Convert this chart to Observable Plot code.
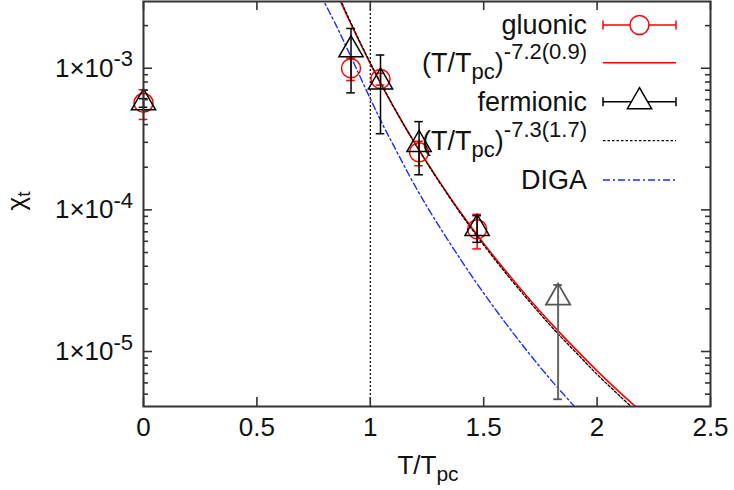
<!DOCTYPE html>
<html><head><meta charset="utf-8">
<script src="https://cdn.jsdelivr.net/npm/d3@7"></script>
<script src="https://cdn.jsdelivr.net/npm/@observablehq/plot@0.6"></script>
<style>body{margin:0;background:#fff} svg{display:block}</style>
</head><body><div id="chart"></div>
<script>
// ---------- data ----------
const gluonicT    = [0, 0.915, 1.045, 1.215, 1.471];
const gluonicChi  = [5.7e-4, 1.0e-3, 8.4e-4, 2.55e-4, 7.3e-5];
const gluonicErr  = [1.35e-4, 1.8e-4, 0.8e-4, 0.5e-4, 2.0e-5];

const fermionicT    = [0, 0.915, 1.045, 1.215, 1.471, 1.828];
const fermionicChi  = [5.7e-4, 1.35e-3, 8.0e-4, 2.9e-4, 7.4e-5, 2.4e-5];
const fermionicLow  = [5.3e-4, 6.7e-4, 3.45e-4, 1.77e-4, 5.9e-5, 4.6e-6];
const fermionicHigh = [6.1e-4, 1.91e-3, 1.24e-3, 4.2e-4, 9.1e-5, 2.95e-5];

const fitT            = [0.86, 0.9, 1.0, 1.1, 1.2, 1.3, 1.4, 1.5, 1.6, 1.7, 1.8, 1.9, 2.0, 2.1, 2.2];
const gluonicFitChi   = [3.19e-3, 2.30e-3, 1.08e-3, 5.42e-4, 2.90e-4, 1.63e-4, 9.5e-5, 5.8e-5, 3.65e-5, 2.36e-5, 1.56e-5, 1.06e-5, 7.3e-6, 5.15e-6, 3.7e-6];
const fermionicFitChi = [3.28e-3, 2.35e-3, 1.09e-3, 5.44e-4, 2.88e-4, 1.61e-4, 9.35e-5, 5.65e-5, 3.53e-5, 2.27e-5, 1.49e-5, 1.01e-5, 6.9e-6, 4.85e-6, 3.45e-6];

const digaT   = [0.78, 0.85, 0.913, 1.0, 1.06, 1.1, 1.2, 1.28, 1.4, 1.5, 1.6, 1.7, 1.8, 1.9];
const digaChi = [3.3e-3, 2.0e-3, 1.22e-3, 6.1e-4, 3.85e-4, 2.9e-4, 1.45e-4, 8.8e-5, 4.42e-5, 2.58e-5, 1.56e-5, 9.7e-6, 6.2e-6, 4.1e-6];

const tpcLine = [1];

const xTicks      = [0, 0.5, 1, 1.5, 2, 2.5];
const xTickLabels = ["0", "0.5", "1", "1.5", "2", "2.5"];
const yMajor      = [1e-3, 1e-4, 1e-5];
const yMajorBase  = ["1×10", "1×10", "1×10"];
const yMajorExp   = ["-3", "-4", "-5"];
const yMinor = [2e-3, 9e-4, 8e-4, 7e-4, 6e-4, 5e-4, 4e-4, 3e-4, 2e-4,
                9e-5, 8e-5, 7e-5, 6e-5, 5e-5, 4e-5, 3e-5, 2e-5,
                9e-6, 8e-6, 7e-6, 6e-6, 5e-6];

const legendLabels = ["gluonic", "-7.2(0.9)", "fermionic", "-7.3(1.7)", "DIGA"];

// ---------- tables ----------
const gluonic = gluonicT.map((t, i) => ({t, chi: gluonicChi[i], lo: gluonicChi[i] - gluonicErr[i], hi: gluonicChi[i] + gluonicErr[i]}));
const fermionic = fermionicT.map((t, i) => ({t, chi: fermionicChi[i], lo: fermionicLow[i], hi: fermionicHigh[i]}));
const gFit = fitT.map((t, i) => ({t, chi: gluonicFitChi[i]}));
const fFit = fitT.map((t, i) => ({t, chi: fermionicFitChi[i]}));
const diga = digaT.map((t, i) => ({t, chi: digaChi[i]}));

// ---------- layout ----------
const W = 734, H = 490;
const mL = 143, mR = 24, mT = 1, mB = 84;
const FW = W - mL - mR, FH = H - mT - mB;
const MAJ = 9, MIN = 5;
const CAP = 0.019;
const FONT = "'Liberation Sans', Arial, Helvetica, sans-serif";
const AX = "#333";
const fermMain = fermionic.slice(0, 5), fermLast = fermionic.slice(5);

const plot = Plot.plot({
  width: W, height: H,
  marginLeft: mL, marginRight: mR, marginTop: mT, marginBottom: mB,
  style: {fontFamily: FONT, background: "#fff", overflow: "visible"},
  x: {domain: [0, 2.5], axis: null},
  y: {type: "log", domain: [4.09e-6, 2.96e-3], axis: null},
  marks: [
    Plot.ruleX(tpcLine, {x: d => d, stroke: "#000", strokeWidth: 1.2, strokeDasharray: "2,2"}),
    Plot.line(diga, {x: "t", y: "chi", stroke: "#1a2bff", strokeWidth: 1.4, strokeDasharray: "7,3,2,3", curve: "catmull-rom", clip: true}),
    Plot.line(gFit, {x: "t", y: "chi", stroke: "#ff0000", strokeWidth: 1.6, curve: "catmull-rom", clip: true}),
    Plot.line(fFit, {x: "t", y: "chi", stroke: "#000", strokeWidth: 1.3, strokeDasharray: "2.5,2", curve: "catmull-rom", clip: true}),
    Plot.ruleX(gluonic, {x: "t", y1: "lo", y2: "hi", stroke: "#ff0000", strokeWidth: 1.5}),
    Plot.ruleY(gluonic, {y: "lo", x1: d => d.t - CAP, x2: d => d.t + CAP, stroke: "#ff0000", strokeWidth: 1.5}),
    Plot.ruleY(gluonic, {y: "hi", x1: d => d.t - CAP, x2: d => d.t + CAP, stroke: "#ff0000", strokeWidth: 1.5}),
    Plot.dot(gluonic, {x: "t", y: "chi", r: 9.5, stroke: "#ff0000", strokeWidth: 1.5, fill: "none"}),
    Plot.ruleX(fermMain, {x: "t", y1: "lo", y2: "hi", stroke: "#000", strokeWidth: 1.5}),
    Plot.ruleY(fermMain, {y: "lo", x1: d => d.t - CAP, x2: d => d.t + CAP, stroke: "#000", strokeWidth: 1.5}),
    Plot.ruleY(fermMain, {y: "hi", x1: d => d.t - CAP, x2: d => d.t + CAP, stroke: "#000", strokeWidth: 1.5}),
    Plot.dot(fermMain, {x: "t", y: "chi", symbol: "triangle", r: 9, stroke: "#000", strokeWidth: 1.5, fill: "none"}),
    Plot.ruleX(fermLast, {x: "t", y1: "lo", y2: "hi", stroke: "#666", strokeWidth: 2}),
    Plot.ruleY(fermLast, {y: "lo", x1: d => d.t - CAP, x2: d => d.t + CAP, stroke: "#555", strokeWidth: 1.8}),
    Plot.ruleY(fermLast, {y: "hi", x1: d => d.t - CAP, x2: d => d.t + CAP, stroke: "#555", strokeWidth: 1.8}),
    Plot.dot(fermLast, {x: "t", y: "chi", symbol: "triangle", r: 9, stroke: "#555", strokeWidth: 1.8, fill: "none"}),
    Plot.tickY(yMajor, {y: d => d, insetRight: FW - MAJ, stroke: AX, strokeWidth: 1.6}),
    Plot.tickY(yMajor, {y: d => d, insetLeft: FW - MAJ, stroke: AX, strokeWidth: 1.6}),
    Plot.tickY(yMinor, {y: d => d, insetRight: FW - MIN, stroke: AX, strokeWidth: 1.6}),
    Plot.tickY(yMinor, {y: d => d, insetLeft: FW - MIN, stroke: AX, strokeWidth: 1.6}),
    Plot.tickX(xTicks, {x: d => d, insetTop: FH - MAJ, stroke: AX, strokeWidth: 1.6}),
    Plot.tickX(xTicks, {x: d => d, insetBottom: FH - MAJ, stroke: AX, strokeWidth: 1.6}),
    Plot.frame({stroke: AX, strokeWidth: 2}),
    Plot.text(xTicks, {x: d => d, frameAnchor: "bottom", text: (d, i) => xTickLabels[i], dy: 21, fontSize: 26, lineAnchor: "middle", fill: "#111"}),
    Plot.text(yMajor, {y: d => d, frameAnchor: "left", text: (d, i) => yMajorBase[i], textAnchor: "end", dx: -30, fontSize: 26, lineAnchor: "middle", fill: "#111"}),
    Plot.text(yMajor, {y: d => d, frameAnchor: "left", text: (d, i) => yMajorExp[i], textAnchor: "start", dx: -30, dy: -9, fontSize: 22, lineAnchor: "middle", fill: "#111"})
  ]
});
document.getElementById("chart").appendChild(plot);

// ---------- axis titles & key ----------
const svg = d3.select(plot);
const g = svg.append("g").attr("font-family", FONT).attr("fill", "#111");

const xt = g.append("text").attr("x", 428).attr("y", 474).attr("text-anchor", "middle").attr("font-size", 26);
xt.append("tspan").text("T/T");
xt.append("tspan").attr("font-size", 21).attr("dy", 7).text("pc");

const yt = g.append("text").attr("transform", "translate(25,201) rotate(-90)").attr("text-anchor", "middle").attr("font-size", 26);
yt.append("tspan").text("χ");
yt.append("tspan").attr("font-size", 19).attr("dy", 5).text("t");

const keyX = 587, s0 = 603, s1 = 676, sc = 639.5;
const rowY = [25, 62.7, 101.7, 140.7, 180];
function plain(i) {
  g.append("text").attr("x", keyX).attr("y", rowY[i] + 9).attr("text-anchor", "end").attr("font-size", 27).text(legendLabels[i]);
}
function formula(i) {
  const t = g.append("text").attr("x", keyX).attr("y", rowY[i] + 9).attr("text-anchor", "end").attr("font-size", 27);
  t.append("tspan").text("(T/T");
  t.append("tspan").attr("font-size", 22).attr("dy", 7).text("pc");
  t.append("tspan").attr("dy", -7).text(")");
  t.append("tspan").attr("font-size", 22).attr("dy", -13).text(legendLabels[i]);
}
plain(0); formula(1); plain(2); formula(3); plain(4);

function errSample(y, color) {
  g.append("line").attr("x1", s0).attr("x2", s1).attr("y1", y).attr("y2", y).attr("stroke", color).attr("stroke-width", 1.5);
  [s0, s1].forEach(x => g.append("line").attr("x1", x).attr("x2", x).attr("y1", y - 4.5).attr("y2", y + 4.5).attr("stroke", color).attr("stroke-width", 1.5));
}
errSample(rowY[0], "#ff0000");
g.append("circle").attr("cx", sc).attr("cy", rowY[0]).attr("r", 9.5).attr("fill", "#fff").attr("stroke", "#ff0000").attr("stroke-width", 1.5);
g.append("line").attr("x1", s0).attr("x2", s1).attr("y1", rowY[1]).attr("y2", rowY[1]).attr("stroke", "#ff0000").attr("stroke-width", 1.6);
errSample(rowY[2], "#000");
g.append("path").attr("d", d3.symbol(d3.symbolTriangle, Math.PI * 81)()).attr("transform", `translate(${sc},${rowY[2]})`).attr("fill", "#fff").attr("stroke", "#000").attr("stroke-width", 1.5);
g.append("line").attr("x1", s0).attr("x2", s1).attr("y1", rowY[3]).attr("y2", rowY[3]).attr("stroke", "#000").attr("stroke-width", 1.3).attr("stroke-dasharray", "2.5,2");
g.append("line").attr("x1", s0).attr("x2", s1).attr("y1", rowY[4]).attr("y2", rowY[4]).attr("stroke", "#1a2bff").attr("stroke-width", 1.4).attr("stroke-dasharray", "7,3,2,3");
</script>
</body></html>
